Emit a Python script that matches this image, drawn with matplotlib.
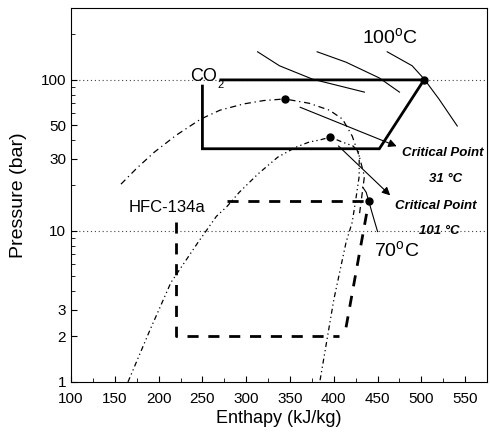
import matplotlib.pyplot as plt
import numpy as np
from matplotlib.ticker import FixedLocator, NullFormatter, MultipleLocator

plt.rcParams['font.family'] = ['Liberation Sans', 'DejaVu Sans']
plt.rcParams['mathtext.fontset'] = 'custom'
plt.rcParams['mathtext.rm'] = 'Liberation Sans'

# saturation domes
co2_dome_h = [157, 175, 195, 220, 248, 270, 297, 320, 344, 372, 395, 410, 421, 429, 435, 433, 429]
co2_dome_p = [20.4, 26, 33.2, 43, 55, 63, 69.3, 73, 74.8, 70, 63, 55, 42.5, 31.3, 23, 18.8, 12.5]

hfc_dome_h = [165, 190, 214, 245, 266, 278, 292, 313, 336, 357, 372, 384, 396,
              410, 422, 429, 429, 425, 421, 414, 400, 384]
hfc_dome_p = [1.0, 2.2, 4.55, 8.4, 12.5, 14.5, 18, 23.7, 30.8, 35.9, 38.8, 40, 41.8,
              38.7, 36.5, 33, 23, 16, 11.4, 8.4, 3.5, 1.0]

# CO2 cycle
co2_cycle_h = [271, 503, 452, 250, 250]
co2_cycle_p = [100, 100, 35, 35, 91]

# HFC-134a cycle pieces
hfc_top_h = [278, 440]
hfc_top_p = [15.7, 15.7]
hfc_left_h = [220, 220, 406]
hfc_left_p = [11.4, 2.0, 2.0]
hfc_comp_h = [414, 440]
hfc_comp_p = [2.3, 15.7]

# isotherms
iso_a_h = [313, 338, 376, 435]
iso_a_p = [153.5, 124, 101, 83]
iso_b_h = [381, 414, 452, 475]
iso_b_p = [153.5, 131, 103, 83]
iso_100_h = [461, 489.5, 503, 520, 541]
iso_100_p = [153.5, 124, 101.6, 74.8, 49.5]
iso_70_h = [433, 437, 440, 444, 450]
iso_70_p = [19.5, 18, 15.7, 13, 9.9]

# marked points
dots_h = [503, 344, 396, 440]
dots_p = [100, 74.8, 41.8, 15.7]

fig = plt.figure(figsize=(4.9, 4.36), dpi=100)
ax = fig.add_axes([0.145, 0.124, 0.849, 0.858])
ax.set_yscale('log')
ax.set_xlim(100, 575)
ax.set_ylim(1, 300)

for yv in [10, 100]:
    ax.axhline(yv, color='#444444', lw=0.8, ls=(0, (1, 2.5)), zorder=1)

ax.plot(co2_dome_h, co2_dome_p, color='black', lw=0.9, dashes=(5, 3, 1, 3))
ax.plot(hfc_dome_h, hfc_dome_p, color='black', lw=0.9, dashes=(4, 2.5, 1, 2.5, 1, 2.5))

ax.plot(co2_cycle_h, co2_cycle_p, color='black', lw=2.0, solid_joinstyle='miter')
for hh, pp in [(hfc_top_h, hfc_top_p), (hfc_left_h, hfc_left_p), (hfc_comp_h, hfc_comp_p)]:
    ax.plot(hh, pp, color='black', lw=2.0, dashes=(4, 3.5))

for hh, pp in [(iso_a_h, iso_a_p), (iso_b_h, iso_b_p), (iso_100_h, iso_100_p), (iso_70_h, iso_70_p)]:
    ax.plot(hh, pp, color='black', lw=0.8)

ax.plot(dots_h, dots_p, 'o', color='black', ms=5)

arrow = dict(arrowstyle='-|>', color='black', lw=0.8, mutation_scale=12)
ax.annotate('', xy=(474.7, 35.8), xytext=(358.5, 67.0), arrowprops=arrow)
ax.annotate('', xy=(466.7, 16.7), xytext=(403, 37.6), arrowprops=arrow)

ax.text(432.6, 173, r'100$^{\rm o}$C', fontsize=14)
ax.text(235.5, 98.5, 'CO', fontsize=13)
ax.text(267, 89, '2', fontsize=8)
ax.text(166, 13.4, 'HFC-134a', fontsize=12)
ax.text(446, 6.67, r'70$^{\rm o}$C', fontsize=14)
bold = dict(fontsize=9.5, fontweight='bold', fontstyle='italic')
ax.text(478, 31.3, 'Critical Point', **bold)
ax.text(509, 21, '31 °C', **bold)
ax.text(470, 13.9, 'Critical Point', **bold)
ax.text(497.5, 9.5, '101 °C', **bold)

ax.xaxis.set_major_locator(MultipleLocator(50))
ax.xaxis.set_minor_locator(MultipleLocator(25))
ax.yaxis.set_major_locator(FixedLocator([1, 2, 3, 10, 30, 50, 100]))
ax.yaxis.set_major_formatter(plt.FuncFormatter(lambda v, p: '%g' % v))
ax.yaxis.set_minor_locator(FixedLocator([4, 5, 6, 7, 8, 9, 20, 40, 60, 70, 80, 90, 200, 300]))
ax.yaxis.set_minor_formatter(NullFormatter())
ax.tick_params(which='both', direction='in', labelsize=11, top=False, right=False)
ax.tick_params(axis='x', which='major', pad=7)
ax.tick_params(which='major', length=4)
ax.tick_params(which='minor', length=3)

ax.set_xlabel('Enthapy (kJ/kg)', fontsize=13, labelpad=3)
ax.set_ylabel('Pressure (bar)', fontsize=14, labelpad=10)

fig.savefig('out.png', dpi=100)
